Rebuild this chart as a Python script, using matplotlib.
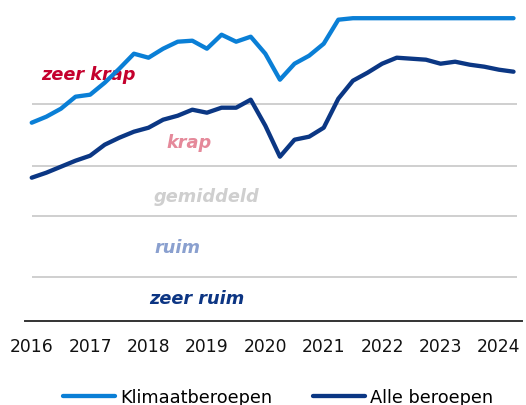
import matplotlib
matplotlib.use("Agg")
import matplotlib.pyplot as plt
from matplotlib.lines import Line2D

# Quarterly data 2016Q1 .. 2024Q2 (index units of the chart)
quarters = list(range(34))
klimaat = [19.8, 20.4, 21.2, 22.4, 22.6, 23.8, 25.2, 26.7, 26.3, 27.2,
           27.9, 28.0, 27.2, 28.6, 27.9, 28.4, 26.7, 24.1, 25.7, 26.5,
           27.7, 30.1, 30.25, 30.25, 30.25, 30.25, 30.25, 30.25, 30.25, 30.25,
           30.25, 30.25, 30.25, 30.25]
alle = [14.3, 14.8, 15.4, 16.0, 16.5, 17.6, 18.3, 18.9, 19.3, 20.1,
        20.5, 21.1, 20.8, 21.3, 21.3, 22.1, 19.5, 16.4, 18.1, 18.4,
        19.3, 22.2, 24.0, 24.8, 25.7, 26.3, 26.2, 26.1, 25.7, 25.9,
        25.6, 25.4, 25.1, 24.9]
year_labels = ["2016", "2017", "2018", "2019", "2020", "2021", "2022", "2023", "2024"]
grid_levels = [4.34, 10.44, 15.5, 21.64]
zone_names = ["zeer krap", "krap", "gemiddeld", "ruim", "zeer ruim"]
zone_y = [24.7, 17.9, 12.5, 7.4, 2.3]
zone_x = [3.9, 10.8, 12.0, 10.0, 11.3]
zone_colors = ["#c4002d", "#e5899a", "#cfcfcf", "#8aa0cf", "#0c3583"]
series_names = ["Klimaatberoepen", "Alle beroepen"]

c_light = "#0a7fd6"
c_dark = "#0b3784"

plt.rcParams['font.family'] = ['DejaVu Sans']
fig = plt.figure(figsize=(5.26, 4.06), dpi=100)
ax = fig.add_axes([25/526, (406-321.7)/406, 497/526, (321.7-10)/406])

ax.hlines(grid_levels, 0, 33.25, colors="#cccccc", linewidth=1.3, zorder=1)

ax.plot(quarters, klimaat, color=c_light, lw=3.1, solid_capstyle='round',
        solid_joinstyle='round', zorder=3)
ax.plot(quarters, alle, color=c_dark, lw=3.1, solid_capstyle='round',
        solid_joinstyle='round', zorder=3)

for name, x, y, c in zip(zone_names, zone_x, zone_y, zone_colors):
    ax.text(x, y, name, color=c, fontsize=12.8, fontweight='bold',
            fontstyle='italic', ha='center', va='center', zorder=2)

ax.set_xlim(-0.46, 33.58)
ax.set_ylim(0, 31.17)
ax.set_xticks(range(0, 33, 4))
ax.set_xticklabels(year_labels)
ax.tick_params(axis='x', length=0, pad=11.5, labelsize=12.3, labelcolor="#111111")
ax.set_yticks([])
for s in ["top", "right", "left"]:
    ax.spines[s].set_visible(False)
ax.spines["bottom"].set_color("#333333")
ax.spines["bottom"].set_linewidth(1.4)

handles = [Line2D([], [], color=c_light, lw=3.1, solid_capstyle='round'),
           Line2D([], [], color=c_dark, lw=3.1, solid_capstyle='round')]
fig.legend(handles, series_names, loc='center', bbox_to_anchor=(278/526, 1-398.5/406),
           ncol=2, frameon=False, fontsize=12.8, handlelength=2.95,
           handletextpad=0.28, columnspacing=2.3, borderpad=0)

fig.savefig("out.png", dpi=100)
